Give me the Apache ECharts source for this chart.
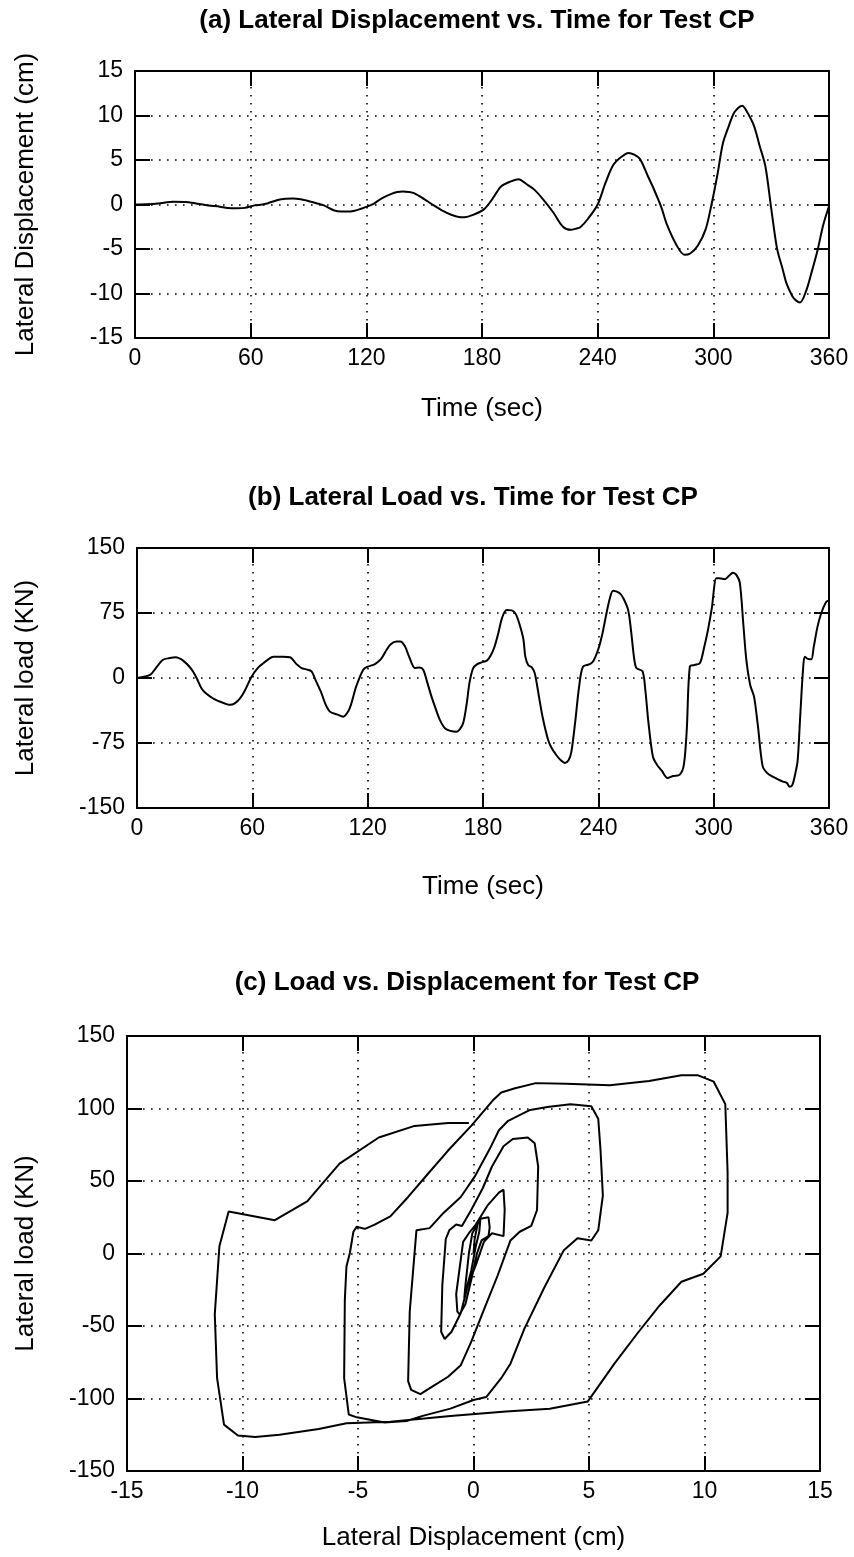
<!DOCTYPE html>
<html>
<head>
<meta charset="utf-8">
<script src="https://cdn.jsdelivr.net/npm/echarts@6/dist/echarts.min.js"></script>
<style>
  html, body { margin: 0; padding: 0; background: #fff; }
  #chart { width: 854px; height: 1557px; }
</style>
</head>
<body>
<div id="chart"></div>
<script>
// (a) lateral displacement (cm) vs time (sec)
const timeA = [0, 6, 12, 20, 26, 31, 38, 44, 48, 53, 57, 62, 66, 69, 74, 78, 82, 86, 89, 94,
  98, 103, 107, 110, 114, 117, 122, 124, 128, 133, 136, 139, 142, 145, 150, 155, 160, 164, 168, 171,
  175, 181, 185, 190, 195, 199, 203, 207, 212, 217, 222, 226, 229, 231, 235, 240, 244, 248, 252, 256,
  259, 262, 266, 269, 273, 276, 281, 285, 288, 292, 296, 299, 302, 305, 308, 311, 315, 317, 321, 324,
  327, 330, 333, 336, 338, 341, 343, 345, 348, 351, 354, 357, 360]
const dispA = [0, 0.02, 0.1, 0.3, 0.28, 0.15, -0.1, -0.25, -0.4, -0.42, -0.38, -0.1, 0, 0.15, 0.5, 0.65, 0.68, 0.6, 0.45, 0.15,
  -0.1, -0.65, -0.8, -0.8, -0.7, -0.5, -0.1, 0.1, 0.7, 1.2, 1.4, 1.45, 1.4, 1.25, 0.6, -0.1, -0.75, -1.15, -1.4, -1.42,
  -1.2, -0.55, 0.5, 2.05, 2.6, 2.85, 2.3, 1.7, 0.5, -0.9, -2.5, -2.85, -2.7, -2.55, -1.6, 0, 2.4, 4.4, 5.3, 5.8,
  5.6, 5.1, 3.2, 1.8, -0.3, -2.3, -4.6, -5.65, -5.5, -4.6, -2.8, -0.05, 3.2, 6.9, 8.8, 10.4, 11.1, 10.6, 8.9, 6.6,
  4.3, -0.4, -4.9, -7.3, -8.9, -10.3, -10.8, -11.0, -9.8, -7.6, -5.2, -2.3, -0.2]

// (b) lateral load (KN) vs time (sec)
const timeB = [0, 7, 10, 13.5, 17, 20, 24, 28.4, 31, 33.6, 36, 39.5, 44, 48.4, 51, 53.6, 56, 59.6, 63, 65.7,
  68, 70.9, 76, 79.6, 83, 85.6, 88, 90.8, 93, 96, 98, 100.4, 104, 107.3, 110, 111.6, 114, 117.7, 120, 123.8,
  127, 129.8, 132, 135, 137, 139.4, 141.5, 144.6, 147, 148.9, 151, 153, 155, 157.5, 160.2, 163, 166.2, 168, 169.7, 171.5,
  173, 174.9, 177, 179.2, 182, 184, 186, 188, 190, 192.3, 195, 197, 199, 201, 202, 203.5, 205.5, 207, 209, 211,
  213.9, 216, 218.5, 220.5, 222.6, 224.5, 226, 228, 230, 232, 235.6, 237.5, 239.8, 242, 244, 246, 247.7, 251, 253, 255.5,
  257, 258.5, 259.8, 263, 264.5, 266, 268.4, 270.5, 273, 276, 279, 282.4, 284.5, 286, 287.6, 290, 292.8, 295, 297, 299,
  301.4, 303, 305.8, 308, 310, 311.8, 313.6, 315.5, 317, 319, 321, 323, 325.5, 328, 330.7, 333.5, 336, 338, 339.6, 341,
  342.5, 343.7, 345, 346.5, 347.4, 349, 350.8, 352, 354, 356, 358.6, 360]
const loadB = [0, 4, 12, 21, 23, 24, 20, 10, 0, -12, -18, -23.5, -28, -31, -29, -23.5, -15, 1.5, 12, 17,
  21, 24.6, 24.6, 24, 16, 11.5, 10, 7.7, -3, -17.7, -30, -38.8, -42, -44.6, -38, -28.8, -10, 9.6, 13, 16,
  22, 32.3, 39, 42, 42, 36.5, 25, 11.5, 12, 9.6, -5, -20, -33, -48, -58, -61, -62, -59, -52, -30,
  -5, 11.5, 16, 18, 20, 26, 36, 52, 70, 78.5, 78, 74, 62, 45, 25, 15, 12, 5, -20, -45,
  -71.5, -82, -90, -95, -98, -95, -85, -50, -10, 13, 16, 20, 32, 50, 72, 92, 100.8, 98, 92, 78.5,
  55, 25, 11.5, 7.7, -15, -50, -90.8, -100, -107, -115.4, -113, -111.5, -100, -60, 13, 15, 17, 35, 55, 80,
  115, 115, 114, 118, 121.5, 119, 110, 60, 20.8, -8, -21.5, -55, -102, -110, -113.7, -117, -119.6, -121, -125.6, -123,
  -110, -95, -45, 10, 24.6, 22, 21.5, 35, 59, 75, 88, 89]

// (c) lateral load (KN) vs lateral displacement (cm), in time order
const dispC = [0, 0.05, 0.2, 0.3, 0.25, 0.1, -0.1, -0.3, -0.4, -0.35, -0.2,
  -0.05, 0.3, 0.65, 0.7, 0.65, 0.35, 0.15, -0.05, -0.35, -0.6, -0.7, -0.75, -0.6, -0.45, -0.2,
  0.1, 0.6, 1.1, 1.3, 1.35, 1.3, 0.8, 0.45, 0.1, -0.25, -0.55, -0.95, -1.25, -1.4, -1.35, -1.2, -1.05, -0.75, -0.5,
  -0.1, 0.4, 0.8, 1.3, 1.7, 2.35, 2.65, 2.8, 2.75, 2.5, 2.0, 1.6, 1.05, 0.47, -0.1, -0.55, -1.1, -1.7, -2.3, -2.7, -2.83, -2.76, -2.6, -2.47, -1.9,
  -1.3, -0.55, 0.05, 0.7, 1.1, 1.5, 2.45, 3.2, 4.2, 5.1, 5.4, 5.5, 5.6, 5.4, 5.1, 4.5, 3.9, 3.05, 2.2, 1.6, 1.2, 0.55, 0, -1, -2.2, -2.9, -3.85, -5.05, -5.4, -5.6, -5.57, -5.5, -5.35, -5.2, -5.05, -4.7, -4.3, -3.6,
  -2.83, -1.97, -1.1, -0.1, 0.83, 1.2, 1.8, 2.7, 4, 5.9, 7.6, 9, 9.7, 10.4, 10.9, 11, 11, 10.7, 9.95, 9, 8.05, 7.1, 6.1, 4.95, 3.3, 1.4, -1, -3.6, -5.5, -6.7, -8.4, -9.45, -10.2, -10.8, -11.1, -11.2, -11, -10.6, -8.6, -7.2, -5.8, -4.1, -2.55, -1.1, -0.2]
const loadC = [0, 10, 22, 24, 15, 5, -12, -24, -31, -22, 0,
  14, 24, 25, 18, 12, 9, 0, -15, -35, -42, -40, -28, -10, 8, 14,
  20, 33, 42, 44, 30, 12, 14, 8, -8, -22, -41, -54, -59, -54, -22, 10, 16, 20, 19,
  30, 45, 60, 74, 79, 80, 76, 60, 30, 19, 15, 9, -15, -38, -61, -77, -85, -91, -97, -94, -88, -40, -9, 16, 17.5,
  28, 39, 53, 72, 85, 91.5, 99, 101, 103, 101.5, 93, 71, 40, 16, 9, 10.5, 2, -24, -52, -76, -86, -99, -101, -107, -112, -115.5, -116.5, -113, -111, -86, -32, -9, 0.5, 15, 18.5, 17, 19.7, 25.6,
  39, 55, 71, 88, 105.5, 111, 114, 117.5, 117, 116, 119, 123, 123, 118.5, 103, 56, 28, -2, -14, -19.5, -36, -55, -76, -102, -107, -109, -112, -116, -117, -121, -125, -126.5, -125.5, -118, -86, -42, 5, 29, 23, 36, 62, 80, 88, 90, 90]

const font = "'Liberation Sans', Arial, sans-serif"
const black = '#000'

const titleStyle = { color: black, fontSize: 26, fontWeight: 'bold', fontFamily: font }
const nameStyle = { color: black, fontSize: 26, fontFamily: font }

const solid = { show: true, onZero: false, lineStyle: { color: black, width: 2 } }
const ticks = { show: true, inside: true, length: 15, lineStyle: { color: black, width: 2 } }
const dots = { show: true, lineStyle: { color: black, width: 1.6, type: [1.6, 6.4] } }

const makeAxes = (dim, grid, min, max, interval, name, nameGap) => {
  const first = dim === 'x' ? 'bottom' : 'left'
  const second = dim === 'x' ? 'top' : 'right'
  return [
    {
      type: 'value', gridIndex: grid, position: first, min, max, interval,
      name, nameLocation: 'middle', nameGap, nameTextStyle: nameStyle,
      axisLine: solid, axisTick: ticks, splitLine: dots,
      axisLabel: { color: black, fontSize: 23, fontFamily: font, margin: dim === 'x' ? 9 : 12 },
    },
    {
      type: 'value', gridIndex: grid, position: second, min, max, interval,
      axisLine: solid, axisTick: ticks, splitLine: { show: false },
      axisLabel: { show: false },
    },
  ]
}

const pairs = (xs, ys) => xs.map((x, i) => [x, ys[i]])
const lineSeries = (idx, data, smooth) => ({
  type: 'line', xAxisIndex: idx * 2, yAxisIndex: idx * 2, data,
  showSymbol: false, smooth, silent: true,
  lineStyle: { color: black, width: 2 },
})

const myChart = echarts.init(document.getElementById('chart'))
myChart.setOption({
  backgroundColor: '#fff',
  animation: false,
  title: [
    { text: '(a) Lateral Displacement vs. Time for Test CP', left: 472, top: 3, textAlign: 'center', textStyle: titleStyle },
    { text: '(b) Lateral Load vs. Time for Test CP', left: 468, top: 480, textAlign: 'center', textStyle: titleStyle },
    { text: '(c) Load vs. Displacement for Test CP', left: 462, top: 965, textAlign: 'center', textStyle: titleStyle },
  ],
  grid: [
    { left: 135, top: 71, width: 694, height: 267 },
    { left: 137, top: 548, width: 692, height: 260 },
    { left: 127, top: 1036, width: 693, height: 435 },
  ],
  xAxis: [
    ...makeAxes('x', 0, 0, 360, 60, 'Time (sec)', 58),
    ...makeAxes('x', 1, 0, 360, 60, 'Time (sec)', 66),
    ...makeAxes('x', 2, -15, 15, 5, 'Lateral Displacement (cm)', 54),
  ],
  yAxis: [
    ...makeAxes('y', 0, -15, 15, 5, 'Lateral Displacement (cm)', 96),
    ...makeAxes('y', 1, -150, 150, 75, 'Lateral load (KN)', 98),
    ...makeAxes('y', 2, -150, 150, 50, 'Lateral load (KN)', 88),
  ],
  series: [
    lineSeries(0, pairs(timeA, dispA), 0.3),
    lineSeries(1, pairs(timeB, loadB), 0.3),
    lineSeries(2, pairs(dispC, loadC), false),
  ],
})
</script>
</body>
</html>
